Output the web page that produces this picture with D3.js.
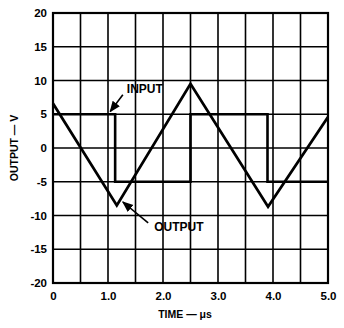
<!DOCTYPE html>
<html>
<head>
<meta charset="utf-8">
<script src="https://cdn.jsdelivr.net/npm/d3@7"></script>
<style>
  body { margin: 0; background: #fff; }
  text { font-family: "Liberation Sans", Arial, sans-serif; font-weight: bold; fill: #000; }
</style>
</head>
<body>
<svg id="chart" width="344" height="328"></svg>
<script>
// ticks des axes
var xTicks = [0, 1.0, 2.0, 3.0, 4.0, 5.0];
var yTicks = [20, 15, 10, 5, 0, -5, -10, -15, -20];

// signal d'entrée (carré) : temps en µs, tension en V
var inputT = [0, 1.13, 1.13, 2.5, 2.5, 3.9, 3.9, 5.0];
var inputV = [5, 5, -5, -5, 5, 5, -5, -5];

// signal de sortie (triangle)
var outputT = [0, 1.16, 2.5, 3.91, 5.0];
var outputV = [6.6, -8.5, 9.5, -8.7, 4.6];

var margin = {left: 53, top: 13, right: 16, bottom: 45};
var width = 344 - margin.left - margin.right;
var height = 328 - margin.top - margin.bottom;

var svg = d3.select("#chart");
var g = svg.append("g")
    .attr("transform", "translate(" + margin.left + "," + margin.top + ")");

var x = d3.scaleLinear().domain([0, 5]).range([0, width]);
var y = d3.scaleLinear().domain([-20, 20]).range([height, 0]);

// grille : tous les 0.5 µs et tous les 5 V
g.selectAll(".vgrid")
  .data(d3.range(1, 10).map(function(i) { return i * 0.5; }))
  .enter().append("line")
    .attr("x1", function(d) { return x(d); })
    .attr("x2", function(d) { return x(d); })
    .attr("y1", 0).attr("y2", height)
    .attr("stroke", "#000").attr("stroke-width", 1.6);

g.selectAll(".hgrid")
  .data(yTicks.slice(1, -1))
  .enter().append("line")
    .attr("y1", function(d) { return y(d); })
    .attr("y2", function(d) { return y(d); })
    .attr("x1", 0).attr("x2", width)
    .attr("stroke", "#000").attr("stroke-width", 1.6);

g.append("rect")
  .attr("width", width).attr("height", height)
  .attr("fill", "none").attr("stroke", "#000").attr("stroke-width", 2.2);

// axes
var xAxis = g.append("g")
  .attr("transform", "translate(0," + height + ")")
  .call(d3.axisBottom(x).tickValues(xTicks).tickSize(0).tickPadding(9)
        .tickFormat(function(d) { return d === 0 ? "0" : d3.format(".1f")(d); }));
xAxis.select(".domain").remove();
xAxis.selectAll("text").style("font-size", "11.5px");

var yAxis = g.append("g")
  .call(d3.axisLeft(y).tickValues(yTicks).tickSize(0).tickPadding(6)
        .tickFormat(function(d) { return d < 0 ? "-" + Math.abs(d) : d; }));
yAxis.select(".domain").remove();
yAxis.selectAll("text").style("font-size", "11.5px");

// titres des axes
svg.append("text")
  .attr("x", 185).attr("y", 318)
  .attr("text-anchor", "middle")
  .style("font-size", "10.5px")
  .text("TIME \u2014 \u03bcs");

svg.append("text")
  .attr("transform", "translate(18," + (margin.top + y(0)) + ") rotate(-90)")
  .attr("text-anchor", "middle")
  .style("font-size", "10.5px")
  .text("OUTPUT \u2014 V");

// courbes
var line = d3.line()
  .x(function(d) { return x(d[0]); })
  .y(function(d) { return y(d[1]); });

g.append("path")
  .datum(d3.zip(inputT, inputV))
  .attr("d", line)
  .attr("fill", "none").attr("stroke", "#000").attr("stroke-width", 2.6);

g.append("path")
  .datum(d3.zip(outputT, outputV))
  .attr("d", line)
  .attr("fill", "none").attr("stroke", "#000").attr("stroke-width", 2.8)
  .attr("stroke-linejoin", "miter");

// annotations avec flèches
svg.append("defs").append("marker")
  .attr("id", "arrow")
  .attr("viewBox", "0 0 10 10")
  .attr("refX", 9).attr("refY", 5)
  .attr("markerWidth", 7).attr("markerHeight", 7)
  .attr("orient", "auto")
  .append("path").attr("d", "M0,1 L10,5 L0,9 Z").attr("fill", "#000");

g.append("text")
  .attr("x", x(1.67)).attr("y", y(8.1))
  .attr("text-anchor", "middle")
  .style("font-size", "12px")
  .text("INPUT");

g.append("line")
  .attr("x1", x(1.27)).attr("y1", y(7.9))
  .attr("x2", x(1.04)).attr("y2", y(5.4))
  .attr("stroke", "#000").attr("stroke-width", 1.6)
  .attr("marker-end", "url(#arrow)");

g.append("text")
  .attr("x", x(2.29)).attr("y", y(-12.3))
  .attr("text-anchor", "middle")
  .style("font-size", "12px")
  .text("OUTPUT");

g.append("line")
  .attr("x1", x(1.73)).attr("y1", y(-11.1))
  .attr("x2", x(1.27)).attr("y2", y(-8.0))
  .attr("stroke", "#000").attr("stroke-width", 1.6)
  .attr("marker-end", "url(#arrow)");
</script>
</body>
</html>
